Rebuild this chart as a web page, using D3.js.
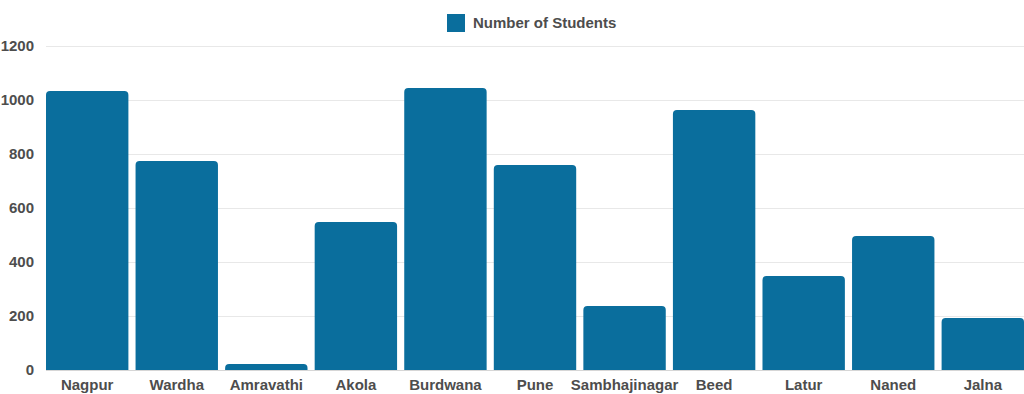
<!DOCTYPE html>
<html><head><meta charset="utf-8">
<script src="https://cdn.jsdelivr.net/npm/d3@7"></script>
<style>html,body{margin:0;padding:0;background:#fff;}svg{display:block;font-family:"Liberation Sans",Arial,sans-serif;}</style>
</head><body><svg id="c" width="1024" height="394"></svg>
<script>
const categories = ["Nagpur","Wardha","Amravathi","Akola","Burdwana","Pune","Sambhajinagar","Beed","Latur","Naned","Jalna"];
const students = [1033,774,22,548,1044,759,237,963,348,496,193];
const yTicks = [0,200,400,600,800,1000,1200];
const seriesName = "Number of Students";
const color = "#0a6e9d";
const textColor = "#4d4d4d";
const fs = 15;

const svg = d3.select("#c");
const x = d3.scaleBand().domain(categories).range([46,1024]).paddingInner(0.08).paddingOuter(0);
const y = d3.scaleLinear().domain([0,1200]).range([370,46]);

// grid
svg.append("g").selectAll("line").data(yTicks).join("line")
  .attr("x1",46).attr("x2",1024).attr("y1",d=>y(d)).attr("y2",d=>y(d))
  .attr("stroke",d=>d===0?"#d6d6d6":"#e8e8e8").attr("stroke-width",1).attr("shape-rendering","crispEdges");

// y axis labels
const ya = svg.append("g").attr("transform","translate(34,0)")
  .call(d3.axisLeft(y).tickValues(yTicks).tickFormat(d3.format("d")).tickSize(0).tickPadding(0));
ya.select(".domain").remove();
ya.selectAll("text").attr("font-size",fs).attr("font-weight","bold").attr("fill",textColor).attr("font-family","Liberation Sans, Arial, sans-serif");

// bars with rounded top corners
const r = 4;
svg.append("g").selectAll("path").data(categories.map((c,i)=>({c,v:students[i]}))).join("path")
  .attr("fill",color)
  .attr("d",d=>{
    const x0=x(d.c), x1=x0+x.bandwidth(), yt=y(d.v), yb=y(0);
    const rr=Math.min(r,(yb-yt));
    return `M${x0},${yb}V${yt+rr}Q${x0},${yt} ${x0+rr},${yt}H${x1-rr}Q${x1},${yt} ${x1},${yt+rr}V${yb}Z`;
  });

// x axis labels
const xa = svg.append("g").attr("transform","translate(0,379)")
  .call(d3.axisBottom(x).tickSize(0).tickPadding(0));
xa.select(".domain").remove();
xa.selectAll("text").attr("font-size",fs).attr("font-weight","bold").attr("fill",textColor).attr("font-family","Liberation Sans, Arial, sans-serif");

// legend
const lg = svg.append("g");
lg.append("rect").attr("x",447).attr("y",14).attr("width",18).attr("height",18).attr("fill",color);
lg.append("text").attr("x",473).attr("y",28).attr("font-size",fs).attr("font-weight","bold").attr("fill",textColor).text(seriesName);
</script></body></html>
